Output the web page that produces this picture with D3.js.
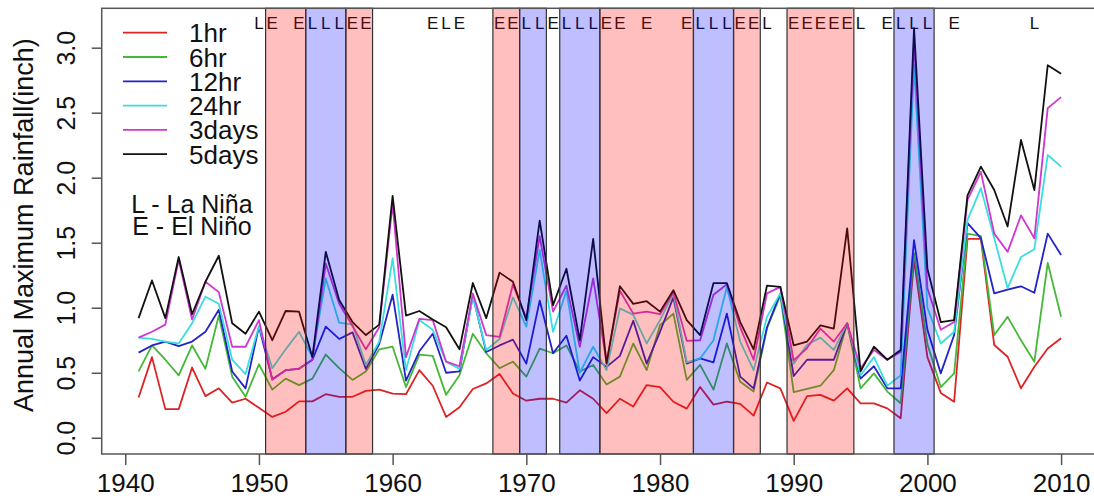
<!DOCTYPE html>
<html>
<head>
<meta charset="utf-8">
<script src="https://cdn.jsdelivr.net/npm/d3@7"></script>
<style>
  body { margin: 0; background: #fff; }
  text { font-family: "Liberation Sans", Arial, sans-serif; }
</style>
</head>
<body>
<div id="chart"></div>
<script>
// Years 1941..2010
const years = d3.range(1941, 2011);

const seriesNames = ["1hr", "6hr", "12hr", "24hr", "3days", "5days"];
const seriesColors = ["#dd2424", "#46b838", "#2323c8", "#3adede", "#cf37cf", "#111111"];

const hr1 = [0.31, 0.62, 0.22, 0.22, 0.54, 0.32, 0.38, 0.27, 0.30, 0.23,
  0.16, 0.20, 0.28, 0.28, 0.335, 0.315, 0.315, 0.36, 0.37, 0.34,
  0.335, 0.52, 0.40, 0.16, 0.235, 0.375, 0.418, 0.49, 0.34, 0.285,
  0.30, 0.30, 0.27, 0.365, 0.30, 0.19, 0.30, 0.24, 0.405, 0.39,
  0.277, 0.224, 0.39, 0.255, 0.277, 0.26, 0.17, 0.425, 0.38, 0.13,
  0.32, 0.33, 0.285, 0.38, 0.265, 0.265, 0.226, 0.15, 1.37, 0.62,
  0.345, 0.277, 1.53, 1.53, 0.713, 0.623, 0.38, 0.546, 0.687, 0.765];

const hr6 = [0.51, 0.71, 0.60, 0.48, 0.71, 0.53, 0.94, 0.47, 0.315, 0.565,
  0.37, 0.455, 0.405, 0.455, 0.64, 0.535, 0.445, 0.51, 0.68, 0.70,
  0.39, 0.64, 0.63, 0.33, 0.48, 0.80, 0.65, 0.535, 0.585, 0.47,
  0.685, 0.65, 0.71, 0.51, 0.56, 0.41, 0.47, 0.725, 0.52, 0.865,
  0.955, 0.445, 0.56, 0.37, 0.725, 0.43, 0.355, 0.84, 1.095, 0.35,
  0.375, 0.40, 0.52, 0.88, 0.38, 0.495, 0.355, 0.265, 1.42, 0.72,
  0.39, 0.495, 1.57, 1.55, 0.79, 0.93, 0.75, 0.585, 1.345, 0.93];

const hr12 = [0.655, 0.71, 0.74, 0.705, 0.74, 0.815, 0.985, 0.51, 0.38, 0.855,
  0.45, 0.52, 0.53, 0.60, 0.855, 0.76, 0.81, 0.53, 0.72, 1.10,
  0.44, 0.665, 0.80, 0.50, 0.51, 1.095, 0.66, 0.71, 0.755, 0.57,
  1.055, 0.65, 0.785, 0.44, 0.62, 0.545, 0.63, 0.90, 0.57, 0.815,
  1.08, 0.57, 0.61, 0.58, 0.955, 0.47, 0.38, 0.85, 1.11, 0.475,
  0.60, 0.60, 0.60, 0.88, 0.455, 0.55, 0.38, 0.38, 1.52, 0.83,
  0.495, 0.79, 1.65, 1.535, 1.11, 1.14, 1.165, 1.115, 1.57, 1.405];

const hr24 = [0.77, 0.76, 0.74, 0.725, 0.88, 1.085, 1.03, 0.60, 0.49, 0.86,
  0.535, 0.68, 0.815, 0.62, 1.225, 0.885, 0.87, 0.56, 0.74, 1.38,
  0.52, 0.905, 0.83, 0.585, 0.53, 1.085, 0.675, 0.76, 1.08, 0.855,
  1.445, 0.815, 1.13, 0.50, 0.70, 0.52, 0.995, 0.945, 0.725, 0.905,
  1.11, 0.58, 0.61, 0.75, 1.16, 0.74, 0.52, 0.93, 1.11, 0.57,
  0.715, 0.77, 0.675, 0.88, 0.48, 0.62, 0.40, 0.48, 2.87, 1.00,
  0.725, 0.815, 1.675, 1.92, 1.535, 1.15, 1.39, 1.45, 2.175, 2.085];

const days3 = [0.77, 0.815, 0.87, 1.37, 0.91, 1.20, 1.12, 0.70, 0.70, 0.905,
  0.445, 0.52, 0.53, 0.60, 1.34, 1.03, 0.86, 0.68, 0.85, 1.80,
  0.62, 0.915, 0.905, 0.585, 0.55, 1.11, 0.79, 0.775, 1.18, 0.92,
  1.55, 0.97, 1.17, 0.70, 1.225, 0.58, 1.13, 0.955, 0.97, 0.95,
  1.12, 0.745, 0.75, 1.10, 1.18, 0.85, 0.60, 1.11, 1.16, 0.595,
  0.69, 0.84, 0.74, 0.88, 0.535, 0.675, 0.60, 0.66, 3.05, 1.15,
  0.83, 0.89, 1.83, 2.045, 1.57, 1.43, 1.71, 1.535, 2.535, 2.62];

const days5 = [0.92, 1.21, 0.92, 1.39, 0.95, 1.20, 1.40, 0.88, 0.80, 0.97,
  0.75, 0.975, 0.97, 0.62, 1.43, 1.06, 0.89, 0.79, 0.87, 1.86,
  0.94, 0.975, 0.91, 0.85, 0.68, 1.19, 0.92, 1.27, 1.20, 0.905,
  1.67, 1.02, 1.30, 0.75, 1.53, 0.57, 1.165, 1.03, 1.05, 0.97,
  1.135, 0.905, 0.79, 1.19, 1.19, 0.89, 0.68, 1.17, 1.16, 0.71,
  0.74, 0.865, 0.84, 1.61, 0.51, 0.70, 0.60, 0.675, 3.15, 1.30,
  0.89, 0.905, 1.865, 2.085, 1.905, 1.625, 2.29, 1.905, 2.865, 2.80];

const allSeries = [hr1, hr6, hr12, hr24, days3, days5];

// ENSO letters shown along the top
const ensoYears = [1950, 1951, 1953, 1954, 1955, 1956, 1957, 1958, 1963, 1964, 1965,
  1968, 1969, 1970, 1971, 1972, 1973, 1974, 1975, 1976, 1977, 1979, 1982,
  1983, 1984, 1985, 1986, 1987, 1988, 1990, 1991, 1992, 1993, 1994, 1995,
  1997, 1998, 1999, 2000, 2002, 2008];
const ensoLetters = ["L", "E", "E", "L", "L", "L", "E", "E", "E", "L", "E",
  "E", "E", "L", "L", "E", "L", "L", "L", "E", "E", "E", "E",
  "L", "L", "L", "E", "E", "L", "E", "E", "E", "E", "E", "L",
  "E", "L", "L", "L", "E", "L"];

// shaded El Nino (E) / La Nina (L) periods
const shadeFrom = [1950.5, 1953.5, 1956.5, 1967.5, 1969.5, 1972.5, 1975.5, 1982.5, 1985.5, 1989.5, 1997.5];
const shadeTo = [1953.5, 1956.5, 1958.5, 1969.5, 1971.5, 1975.5, 1982.5, 1985.5, 1987.5, 1994.5, 2000.5];
const shadeType = ["E", "L", "E", "E", "L", "L", "E", "L", "E", "E", "L"];

const xTicks = [1940, 1950, 1960, 1970, 1980, 1990, 2000, 2010];
const yTicks = [0, 0.5, 1, 1.5, 2, 2.5, 3];

const W = 1094, H = 499;
const plot = { left: 101.7, top: 8.3, right: 1098, bottom: 454 };

const svg = d3.select("#chart")
  .append("svg")
  .attr("width", W)
  .attr("height", H);

const x = d3.scaleLinear()
  .domain([1938.24, 2012.76])
  .range([plot.left, plot.right]);

const y = d3.scaleLinear()
  .domain([-0.125, 3.303])
  .range([plot.bottom, plot.top]);

// series lines (1hr first, 5days on top)
const line = d3.line()
  .x((d, i) => x(years[i]))
  .y(d => y(d));

allSeries.forEach((s, k) => {
  svg.append("path")
    .datum(s)
    .attr("d", line)
    .attr("fill", "none")
    .attr("stroke", seriesColors[k])
    .attr("stroke-width", 1.8)
    .attr("stroke-linejoin", "round");
});

// ENSO letters
svg.append("g")
  .selectAll("text")
  .data(ensoYears)
  .join("text")
  .attr("x", d => x(d))
  .attr("y", 29)
  .attr("text-anchor", "middle")
  .attr("font-size", 17)
  .attr("fill", "#111")
  .text((d, i) => ensoLetters[i]);

// translucent shading drawn over the lines
svg.append("g")
  .selectAll("rect")
  .data(shadeFrom)
  .join("rect")
  .attr("x", d => x(d))
  .attr("y", plot.top)
  .attr("width", (d, i) => x(shadeTo[i]) - x(d))
  .attr("height", plot.bottom - plot.top)
  .attr("fill", (d, i) => shadeType[i] === "E" ? "rgba(255,0,0,0.25)" : "rgba(0,0,255,0.25)")
  .attr("stroke", "#333")
  .attr("stroke-width", 1.2);

// plot box
svg.append("rect")
  .attr("x", plot.left)
  .attr("y", plot.top)
  .attr("width", plot.right - plot.left)
  .attr("height", plot.bottom - plot.top)
  .attr("fill", "none")
  .attr("stroke", "#555")
  .attr("stroke-width", 1.5);

// x axis
const xAxis = svg.append("g")
  .attr("transform", `translate(0,${plot.bottom})`)
  .call(d3.axisBottom(x).tickValues(xTicks).tickFormat(d3.format("d")).tickSize(11).tickPadding(9));
xAxis.select(".domain").remove();
xAxis.selectAll("line").attr("stroke", "#555").attr("stroke-width", 1.5);
xAxis.selectAll("text")
  .attr("font-size", 26)
  .attr("font-family", "Liberation Sans, Arial, sans-serif")
  .attr("fill", "#111");

// y axis with rotated labels
const yAxis = svg.append("g")
  .attr("transform", `translate(${plot.left},0)`)
  .call(d3.axisLeft(y).tickValues(yTicks).tickFormat(d3.format(".1f")).tickSize(10));
yAxis.select(".domain").remove();
yAxis.selectAll("line").attr("stroke", "#555").attr("stroke-width", 1.5);
yAxis.selectAll("text")
  .attr("x", null)
  .attr("dy", null)
  .attr("transform", "translate(-26.7,0) rotate(-90)")
  .attr("text-anchor", "middle")
  .attr("font-size", 25)
  .attr("font-family", "Liberation Sans, Arial, sans-serif")
  .attr("fill", "#111");

// y axis title
svg.append("text")
  .attr("transform", `translate(33.3,${(plot.top + plot.bottom) / 2 - 6}) rotate(-90)`)
  .attr("text-anchor", "middle")
  .attr("font-size", 27)
  .attr("fill", "#111")
  .text("Annual Maximum Rainfall(inch)");

// legend
const legend = svg.append("g");
seriesNames.forEach((name, k) => {
  const ly = 32.7 + k * 24.3;
  legend.append("line")
    .attr("x1", 123).attr("x2", 167)
    .attr("y1", ly).attr("y2", ly)
    .attr("stroke", seriesColors[k])
    .attr("stroke-width", 1.8);
  legend.append("text")
    .attr("x", 189)
    .attr("y", ly + 9.5)
    .attr("font-size", 26)
    .attr("fill", "#111")
    .text(name);
});

legend.append("text")
  .attr("x", 192).attr("y", 213.3)
  .attr("text-anchor", "middle")
  .attr("font-size", 25)
  .attr("fill", "#111")
  .text("L - La Niña");

legend.append("text")
  .attr("x", 192).attr("y", 235)
  .attr("text-anchor", "middle")
  .attr("font-size", 25)
  .attr("fill", "#111")
  .text("E - El Niño");
</script>
</body>
</html>
